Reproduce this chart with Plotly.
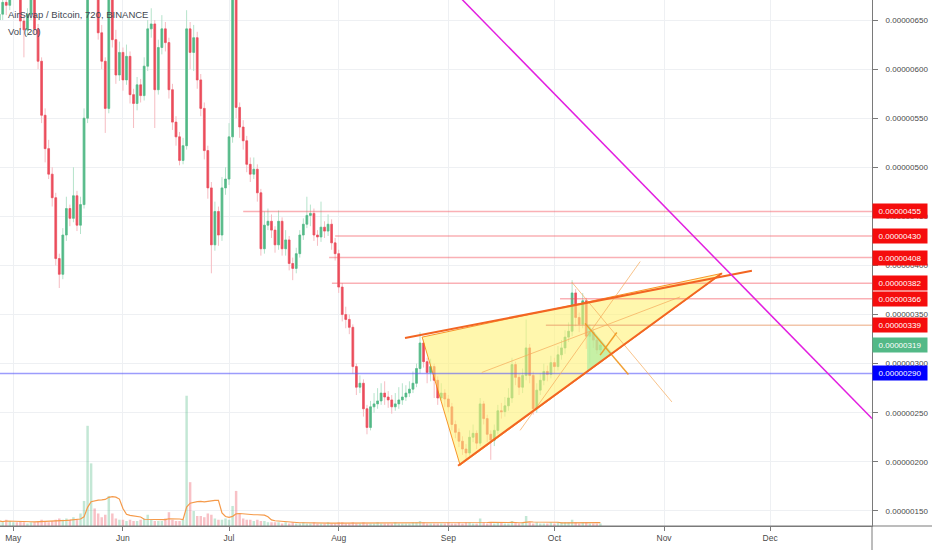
import numpy as np
import pandas as pd
import plotly.graph_objects as go

# AirSwap / Bitcoin, 12h candles (one value per day), prices in satoshi
start_day = "2019-04-27"
close = [656, 668, 665, 689, 699, 680, 649, 640, 656, 675,
         641, 608, 553, 519, 493, 469, 407, 391, 431, 458,
         448, 471, 441, 462, 550, 698, 727, 698, 637, 608,
         560, 689, 630, 594, 617, 589, 613, 574, 565, 584,
         573, 603, 641, 646, 579, 622, 641, 627, 579, 546,
         531, 507, 522, 641, 617, 632, 589, 560, 517, 479,
         421, 455, 431, 479, 488, 531, 698, 561, 541, 527,
         503, 493, 498, 474, 417, 441, 445, 436, 421, 445,
         417, 426, 402, 397, 412, 431, 442, 451, 453, 431,
         429, 439, 435, 442, 423, 412, 378, 350, 345, 337,
         297, 276, 280, 254, 235, 256, 259, 262, 270, 266,
         263, 256, 259, 263, 266, 270, 274, 280, 295, 321,
         302, 291, 297, 283, 265, 270, 264, 256, 238, 230,
         221, 213, 209, 225, 229, 219, 259, 244, 228, 222,
         232, 252, 251, 257, 265, 299, 286, 276, 288, 316,
         288, 254, 273, 283, 292, 289, 301, 297, 309, 316,
         327, 333, 372, 347, 340, 364, 328, 332, 324, 314,
         319]
high = [668, 676, 680, 700, 715, 705, 684, 655, 662, 690,
        680, 646, 612, 560, 528, 500, 474, 412, 438, 470,
        462, 500, 476, 470, 560, 740, 760, 735, 705, 645,
        612, 720, 700, 640, 628, 622, 625, 618, 580, 592,
        590, 612, 650, 662, 650, 630, 655, 648, 632, 585,
        552, 536, 530, 660, 648, 645, 638, 595, 566, 522,
        485, 465, 460, 490, 500, 545, 760, 705, 566, 548,
        532, 510, 510, 503, 478, 455, 458, 452, 440, 456,
        449, 436, 430, 408, 418, 436, 448, 470, 462, 458,
        436, 465, 445, 452, 447, 428, 416, 382, 358, 350,
        340, 300, 288, 284, 258, 262, 270, 275, 280, 282,
        272, 268, 270, 276, 280, 278, 282, 292, 300, 332,
        325, 306, 305, 300, 287, 280, 274, 268, 260, 242,
        234, 226, 218, 232, 238, 232, 265, 262, 248, 232,
        238, 258, 260, 266, 275, 306, 302, 290, 295, 345,
        320, 292, 280, 290, 300, 298, 308, 306, 318, 324,
        334, 342, 385, 376, 352, 372, 367, 340, 336, 328,
        324]
low = [645, 650, 655, 660, 684, 672, 640, 612, 634, 650,
       635, 600, 545, 505, 488, 460, 400, 377, 386, 425,
       440, 444, 435, 432, 458, 545, 690, 680, 630, 600,
       535, 555, 622, 585, 588, 578, 584, 565, 540, 558,
       566, 568, 598, 632, 540, 574, 615, 618, 570, 538,
       522, 502, 503, 518, 600, 598, 580, 552, 508, 468,
       392, 415, 420, 425, 472, 482, 525, 550, 530, 518,
       495, 485, 488, 465, 410, 412, 436, 428, 413, 416,
       410, 410, 395, 385, 392, 408, 426, 438, 440, 425,
       420, 424, 428, 430, 416, 405, 372, 343, 336, 330,
       290, 268, 270, 246, 228, 232, 250, 254, 258, 258,
       255, 249, 252, 254, 258, 262, 266, 270, 276, 290,
       296, 280, 282, 265, 258, 262, 256, 250, 232, 224,
       215, 207, 203, 206, 220, 213, 216, 238, 220, 202,
       216, 228, 244, 246, 252, 260, 278, 268, 270, 283,
       280, 248, 250, 268, 278, 282, 285, 290, 293, 304,
       310, 322, 328, 338, 332, 336, 315, 300, 316, 310,
       310]
volume = [0.04, 0.03, 0.05, 0.04, 0.03, 0.03, 0.04, 0.03, 0.02, 0.03,
          0.03, 0.04, 0.05, 0.04, 0.03, 0.04, 0.05, 0.06, 0.05, 0.06,
          0.05, 0.07, 0.05, 0.10, 0.20, 0.80, 0.50, 0.14, 0.10, 0.07,
          0.09, 0.24, 0.10, 0.06, 0.05, 0.05, 0.04, 0.05, 0.04, 0.04,
          0.05, 0.06, 0.09, 0.05, 0.04, 0.04, 0.04, 0.06, 0.11, 0.05,
          0.04, 0.04, 0.05, 1.04, 0.35, 0.12, 0.08, 0.08, 0.07, 0.10,
          0.09, 0.06, 0.05, 0.05, 0.06, 0.05, 0.16, 0.28, 0.10, 0.06,
          0.05, 0.05, 0.04, 0.05, 0.04, 0.04, 0.03, 0.03, 0.03, 0.03,
          0.02, 0.03, 0.02, 0.03, 0.02, 0.02, 0.03, 0.02, 0.02, 0.03,
          0.02, 0.02, 0.02, 0.03, 0.02, 0.02, 0.03, 0.03, 0.02, 0.02,
          0.03, 0.02, 0.02, 0.03, 0.02, 0.02, 0.02, 0.03, 0.02, 0.02,
          0.02, 0.02, 0.03, 0.02, 0.02, 0.02, 0.02, 0.03, 0.03, 0.04,
          0.03, 0.02, 0.02, 0.02, 0.02, 0.02, 0.02, 0.03, 0.02, 0.02,
          0.03, 0.02, 0.03, 0.03, 0.02, 0.02, 0.06, 0.03, 0.02, 0.03,
          0.02, 0.03, 0.03, 0.02, 0.02, 0.04, 0.03, 0.02, 0.03, 0.08,
          0.03, 0.02, 0.03, 0.02, 0.02, 0.02, 0.03, 0.02, 0.03, 0.03,
          0.03, 0.03, 0.05, 0.03, 0.02, 0.03, 0.03, 0.02, 0.02, 0.02,
          0.02]

# drawings (date, satoshi)
levels = [455, 430, 408, 382, 366, 339]
level_start = ["2019-07-05 00:00", "2019-07-31 00:00", "2019-07-29 07:00",
               "2019-07-30 02:00", "2019-10-02 14:00", "2019-09-28 14:00"]
blue_level = 290
last_price = 319
tri_x = ["2019-08-24 14:00", "2019-09-04 08:00", "2019-11-17 10:00"]
tri_y = [327, 196.5, 392]
upper_x = ["2019-08-19 18:00", "2019-11-25 20:00"]
upper_y = [326, 394.5]
lower_x = ["2019-09-03 18:00", "2019-11-17 08:00"]
lower_y = [196, 392]
fan_x = [["2019-10-05 22:00", "2019-11-03 05:00"],
         ["2019-09-21 07:00", "2019-10-25 06:00"],
         ["2019-09-10 11:00", "2019-11-05 13:00"]]
fan_y = [[383, 261], [232, 404], [291, 368]]
small_x = [["2019-10-09 16:00", "2019-10-21 22:00"],
           ["2019-10-13 22:00", "2019-10-18 15:00"]]
small_y = [[341, 289], [308.6, 331.7]]
patch_x = ["2019-10-10 06:00", "2019-10-10 06:00", "2019-10-17 07:00"]
patch_y = [341, 292, 311]
magenta_x = ["2019-09-04 21:00", "2019-12-29 19:00"]
magenta_y = [671, 244]

x_range = ["2019-04-27 05:42", "2019-12-29 19:00"]
y_range = [134.6, 670.4]

SAT = 1e-8
dates = pd.date_range(start_day, periods=len(close), freq="D")
c = np.array(close, float)
o = np.concatenate([[650.0], c[:-1]])
h = np.array(high, float)
l = np.array(low, float)
up = c >= o
vol = pd.Series(volume)
vol_ma = vol.rolling(10, min_periods=1).mean()

UP, DOWN = "#53b987", "#eb4d5c"
FONT = "Liberation Sans"

fig = go.Figure()

fig.add_trace(go.Bar(x=dates, y=vol, yaxis="y2", width=86400000 * 0.7,
                     marker=dict(color=np.where(up, "rgba(83,185,135,0.35)", "rgba(235,77,92,0.35)"),
                                 line=dict(width=0))))
fig.add_trace(go.Scatter(x=dates, y=vol_ma, yaxis="y2", mode="lines",
                         line=dict(color="#f59a4a", width=1.2)))

# triangle and small green patch
fig.add_trace(go.Scatter(x=tri_x + tri_x[:1], y=[v * SAT for v in tri_y + tri_y[:1]],
                         mode="lines", fill="toself", fillcolor="rgba(255,241,118,0.6)",
                         line=dict(color="rgba(245,124,0,0.8)", width=1)))
fig.add_trace(go.Scatter(x=patch_x + patch_x[:1], y=[v * SAT for v in patch_y + patch_y[:1]],
                         mode="lines", fill="toself", fillcolor="rgba(160,235,160,0.6)",
                         line=dict(width=0)))

# horizontal levels
for lv, st in zip(levels, level_start):
    col = "rgba(232,150,100,0.55)" if lv == 339 else "rgba(244,80,90,0.45)"
    fig.add_trace(go.Scatter(x=[st, x_range[1]], y=[lv * SAT] * 2, mode="lines",
                             line=dict(color=col, width=1.5)))
fig.add_trace(go.Scatter(x=x_range, y=[blue_level * SAT] * 2, mode="lines",
                         line=dict(color="rgba(90,90,250,0.6)", width=1.5)))

# candles: pale wicks underneath, solid bodies on top
fig.add_trace(go.Candlestick(x=dates, open=o * SAT, high=h * SAT, low=l * SAT, close=c * SAT,
                             increasing=dict(line=dict(color="#b5e3cb", width=1), fillcolor="rgba(0,0,0,0)"),
                             decreasing=dict(line=dict(color="#f6bcc2", width=1), fillcolor="rgba(0,0,0,0)"),
                             whiskerwidth=0))
body_hi = np.maximum(o, c)
body_lo = np.minimum(o, c)
fig.add_trace(go.Candlestick(x=dates, open=o * SAT, high=body_hi * SAT, low=body_lo * SAT, close=c * SAT,
                             increasing=dict(line=dict(color=UP, width=0.6), fillcolor=UP),
                             decreasing=dict(line=dict(color=DOWN, width=0.6), fillcolor=DOWN),
                             whiskerwidth=0))

# trend lines
for xs, ys in zip(fan_x, fan_y):
    fig.add_trace(go.Scatter(x=xs, y=[v * SAT for v in ys], mode="lines",
                             line=dict(color="rgba(245,170,90,0.7)", width=1)))
for xs, ys in zip(small_x, small_y):
    fig.add_trace(go.Scatter(x=xs, y=[v * SAT for v in ys], mode="lines",
                             line=dict(color="rgba(240,150,30,0.9)", width=1.5)))
for xs, ys in ((upper_x, upper_y), (lower_x, lower_y)):
    fig.add_trace(go.Scatter(x=xs, y=[v * SAT for v in ys], mode="lines",
                             line=dict(color="#f26522", width=2)))
fig.add_trace(go.Scatter(x=magenta_x, y=[v * SAT for v in magenta_y], mode="lines",
                         line=dict(color="#e21fe0", width=1.5)))

# price labels on the axis
ann = []
tags = [(lv, "#f50d0d") for lv in levels] + [(last_price, UP), (blue_level, "#0000ff")]
for lv, col in tags:
    ann.append(dict(x=1.0, xref="paper", xanchor="left", y=lv * SAT, yref="y",
                    text=f"{lv * SAT:.8f}", showarrow=False, bgcolor=col, width=52, height=12,
                    font=dict(color="white", size=8, family=FONT), borderpad=1))
ann.append(dict(x=0.007, xref="paper", y=0.9715, yref="paper", xanchor="left", yanchor="middle",
                text="AirSwap / Bitcoin, 720, BINANCE", showarrow=False,
                font=dict(color="#434651", size=9.5, family=FONT)))
ann.append(dict(x=0.007, xref="paper", y=0.941, yref="paper", xanchor="left", yanchor="middle",
                text="Vol (20)", showarrow=False,
                font=dict(color="#434651", size=9.5, family=FONT)))

# axis lines continue under the price scale and below the time scale
shapes = [dict(type="line", xref="paper", yref="paper", x0=0, x1=932 / 872, y0=0, y1=0,
               line=dict(color="#7a7a7a", width=1)),
          dict(type="line", xref="paper", yref="paper", x0=1, x1=1, y0=0, y1=-0.05,
               line=dict(color="#7a7a7a", width=1))]

fig.update_layout(
    width=932, height=550, margin=dict(l=0, r=60, t=0, b=24),
    paper_bgcolor="white", plot_bgcolor="white", showlegend=False, hovermode=False,
    font=dict(family=FONT, size=8, color="#4a4a4a"),
    annotations=ann, shapes=shapes,
    xaxis=dict(type="date", range=x_range, rangeslider=dict(visible=False),
               dtick="M1", tick0="2019-05-01", tickformat="%b", tickfont=dict(size=8.5),
               showgrid=True, gridcolor="#eef0f3", gridwidth=1,
               showline=True, linecolor="#7a7a7a", linewidth=1,
               ticks="outside", ticklen=4, tickcolor="#7a7a7a", zeroline=False),
    yaxis=dict(range=[v * SAT for v in y_range], side="right", tickformat=".8f",
               tick0=0, dtick=50 * SAT, showgrid=True, gridcolor="#eef0f3", gridwidth=1,
               showline=True, linecolor="#7a7a7a", linewidth=1, ticklabelstandoff=6,
               ticks="outside", ticklen=5, tickcolor="#7a7a7a", zeroline=False),
    yaxis2=dict(overlaying="y", range=[0, 4.2], visible=False, fixedrange=True),
)

# the page body has a default 8px margin; drop it so the figure fills the window
fig.write_html("out.html", config={"displayModeBar": False},
               post_script="document.body.style.margin='0';")
